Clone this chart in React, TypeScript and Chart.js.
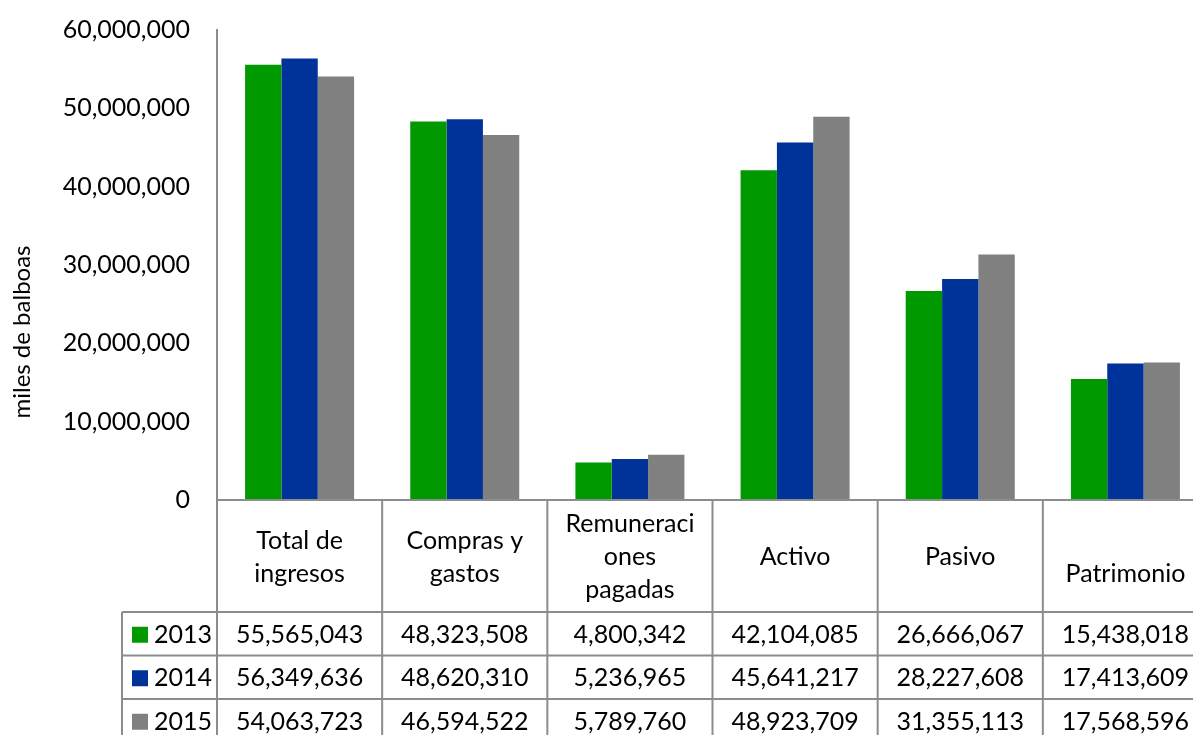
import React, { useEffect, useRef } from "react";
import { Chart, registerables } from "chart.js";

Chart.register(...registerables);

const categories: string[][] = [
  ["Total de", "ingresos"],
  ["Compras y", "gastos"],
  ["Remuneraci", "ones", "pagadas"],
  ["Activo"],
  ["Pasivo"],
  ["", "Patrimonio"],
];
const seriesNames = ["2013", "2014", "2015"];
const values2013 = [55565043, 48323508, 4800342, 42104085, 26666067, 15438018];
const values2014 = [56349636, 48620310, 5236965, 45641217, 28227608, 17413609];
const values2015 = [54063723, 46594522, 5789760, 48923709, 31355113, 17568596];
const colors = ["#009900", "#003399", "#808080"];
const yTitle = "miles de balboas";

const FONT = "Lato, 'Open Sans', sans-serif";
const fmt = (v: number) => v.toLocaleString("en-US");
const SHIFT = 12;

const tablePlugin = {
  id: "dataTable",
  afterDraw(chart: any) {
    const ctx = chart.ctx as CanvasRenderingContext2D;
    const xs = chart.scales.x;
    const area = chart.chartArea;
    const n = categories.length;
    const colW = (xs.right - xs.left) / n;
    const top = area.bottom;
    const headerBottom = top + 112;
    const rowH = 43.5;
    const legendLeft = 122;
    const right = xs.right;
    const lineColor = "#8c8c8c";
    ctx.save();
    ctx.strokeStyle = lineColor;
    ctx.lineWidth = 2;
    const nRows = seriesNames.length;
    const bottom = headerBottom + rowH * nRows;
    ctx.beginPath();
    ctx.moveTo(xs.left, top);
    ctx.lineTo(right, top);
    for (let r = 0; r <= nRows; r++) {
      const y = headerBottom + r * rowH;
      ctx.moveTo(legendLeft, y);
      ctx.lineTo(right, y);
    }
    for (let i = 0; i <= n; i++) {
      const x = xs.left + i * colW;
      ctx.moveTo(x, top);
      ctx.lineTo(x, bottom);
    }
    ctx.moveTo(legendLeft, headerBottom);
    ctx.lineTo(legendLeft, bottom);
    ctx.stroke();

    ctx.fillStyle = "#000";
    ctx.font = `25px ${FONT}`;
    ctx.textAlign = "center";
    ctx.textBaseline = "middle";
    const lh = 33;
    const headerMid = (top + headerBottom) / 2 + 1;
    categories.forEach((lines, i) => {
      const cx = xs.getPixelForValue(i);
      const y0 = headerMid - ((lines.length - 1) * lh) / 2;
      lines.forEach((t, k) => ctx.fillText(t, cx, y0 + k * lh));
    });

    const datasets = chart.data.datasets;
    datasets.forEach((ds: any, r: number) => {
      const cy = headerBottom + r * rowH + rowH / 2 + 1;
      ctx.fillStyle = ds.backgroundColor;
      ctx.fillRect(legendLeft + 10, cy - 8, 16, 16);
      ctx.fillStyle = "#000";
      ctx.textAlign = "left";
      ctx.fillText(ds.label, legendLeft + 32, cy);
      ctx.textAlign = "center";
      ds.data.forEach((v: number, i: number) => {
        ctx.fillText(fmt(v), xs.getPixelForValue(i), cy);
      });
    });

    ctx.save();
    ctx.translate(22, 332 + SHIFT);
    ctx.rotate(-Math.PI / 2);
    ctx.font = `24px ${FONT}`;
    ctx.textAlign = "center";
    ctx.textBaseline = "middle";
    ctx.fillText(yTitle, 0, 0);
    ctx.restore();

    ctx.restore();
  },
};

export default function App() {
  const ref = useRef<HTMLCanvasElement>(null);
  useEffect(() => {
    if (!ref.current) return;
    const chart = new Chart(ref.current, {
      type: "bar",
      data: {
        labels: categories.map((c) => c.join(" ")),
        datasets: [values2013, values2014, values2015].map((d, i) => ({
          label: seriesNames[i],
          data: d,
          backgroundColor: colors[i],
          borderWidth: 0,
          categoryPercentage: 0.66,
          barPercentage: 1,
        })),
      },
      options: {
        animation: false,
        responsive: false,
        devicePixelRatio: 1,
        layout: { padding: { top: 8, right: 7, bottom: 260, left: 0 } },
        plugins: { legend: { display: false }, tooltip: { enabled: false } },
        scales: {
          x: { display: false },
          y: {
            min: 0,
            max: 60000000,
            afterFit: (s: any) => {
              s.width = 217;
            },
            ticks: {
              stepSize: 10000000,
              padding: 27,
              color: "#000",
              font: { family: FONT, size: 25 },
              callback: (v: any) => fmt(Number(v)),
            },
            grid: { display: false, drawTicks: false },
            border: { display: true, color: "#8c8c8c", width: 2 },
          },
        },
      },
      plugins: [tablePlugin],
    });
    return () => chart.destroy();
  }, []);
  return (
    <div style={{ position: "absolute", left: 0, top: -SHIFT }}>
      <canvas ref={ref} width={1215} height={760 + SHIFT} style={{ display: "block" }} />
    </div>
  );
}
